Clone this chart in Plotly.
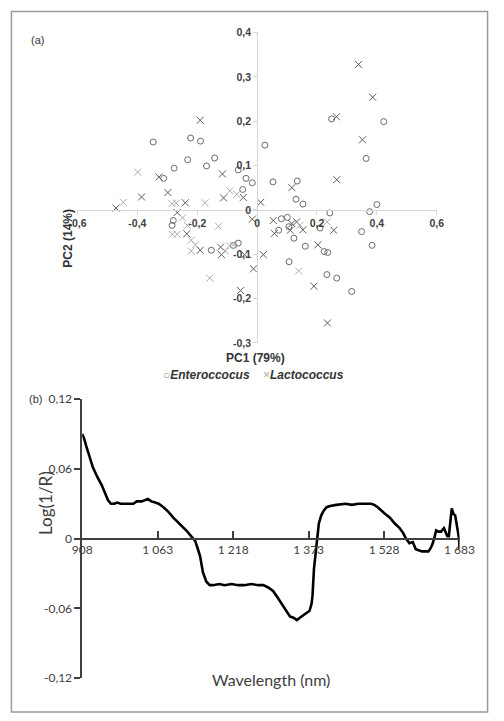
import plotly.graph_objects as go

# ---------------- Panel (a): PCA scores ----------------
entero_pc1 = [-0.347, -0.222, -0.189, -0.232, -0.142, -0.169, -0.277, -0.312, -0.063, -0.037,
              -0.016, -0.048, 0.026, 0.053, 0.134, 0.130, 0.153, 0.249, 0.423, 0.364,
              0.243, 0.376, 0.400, 0.081, 0.101, 0.106, 0.072, 0.210, 0.349, 0.384,
              0.123, 0.161, 0.224, 0.236, 0.107, 0.233, 0.266, 0.316, -0.280, -0.284,
              -0.153, -0.079, -0.063]
entero_pc2 = [0.153, 0.162, 0.155, 0.113, 0.117, 0.099, 0.094, 0.071, 0.090, 0.071,
              0.061, 0.046, 0.146, 0.063, 0.065, 0.024, 0.013, 0.205, 0.199, 0.116,
              -0.007, -0.004, 0.012, -0.020, -0.017, -0.038, -0.046, -0.041, -0.049, -0.080,
              -0.064, -0.082, -0.094, -0.096, -0.117, -0.146, -0.154, -0.184, -0.024, -0.035,
              -0.091, -0.080, -0.075]

lacto_pc1 = [-0.399, -0.190, -0.328, -0.386, -0.471, -0.447, -0.298, -0.284, -0.270, -0.240,
             -0.174, -0.116, -0.112, -0.091, -0.068, -0.046, 0.012, -0.267, -0.249, -0.233,
             -0.283, -0.267, -0.235, -0.220, -0.206, -0.220, -0.190, -0.129, -0.122, -0.119,
             -0.106, -0.092, -0.042, 0.021, -0.012, -0.158, -0.055, -0.016, 0.339, 0.386,
             0.265, 0.352, 0.266, 0.116, 0.054, 0.116, 0.132, 0.143, 0.058, 0.111,
             0.153, 0.234, 0.256, 0.203, 0.139, 0.190, 0.235, -0.079]
lacto_pc2 = [0.085, 0.202, 0.074, 0.029, 0.004, 0.017, 0.039, 0.014, 0.015, 0.016,
             0.016, 0.081, 0.027, 0.043, 0.035, 0.028, 0.017, -0.006, -0.018, -0.035,
             -0.055, -0.055, -0.054, -0.068, -0.079, -0.093, -0.091, -0.037, -0.084, -0.101,
             -0.093, -0.081, -0.101, -0.101, -0.133, -0.154, -0.182, -0.021, 0.328, 0.254,
             0.210, 0.158, 0.068, 0.050, -0.024, -0.031, -0.027, -0.035, -0.053, -0.046,
             -0.045, -0.027, -0.046, -0.079, -0.138, -0.172, -0.255, -0.079]
lacto_shade = ["l", "d", "d", "d", "d", "l", "d", "l", "l", "d",
               "l", "d", "d", "l", "l", "d", "d", "d", "l", "l",
               "l", "l", "d", "l", "l", "l", "d", "l", "d", "d",
               "l", "l", "d", "d", "d", "l", "d", "d", "d", "d",
               "d", "d", "d", "d", "d", "d", "d", "l", "d", "d",
               "d", "l", "d", "d", "l", "d", "d", "l"]

series_names = ["Enteroccocus", "Lactococcus"]

pc1_ticks = [-0.6, -0.4, -0.2, 0, 0.2, 0.4, 0.6]
pc1_labels = ["-0,6", "-0,4", "-0,2", "0", "0,2", "0,4", "0,6"]
pc2_ticks = [-0.3, -0.2, -0.1, 0, 0.1, 0.2, 0.3, 0.4]
pc2_labels = ["-0,3", "-0,2", "-0,1", "0", "0,1", "0,2", "0,3", "0,4"]

# ---------------- Panel (b): loading spectrum ----------------
wavelength = [908, 912, 916, 923, 930, 939, 948, 955, 961, 967, 974, 980, 987, 1000, 1013, 1020,
              1030, 1043, 1050, 1058, 1065, 1075, 1085, 1095, 1105, 1115, 1124, 1132, 1140, 1144,
              1150, 1156, 1163, 1170, 1176, 1190, 1200, 1215, 1228, 1241, 1255, 1270, 1280, 1290,
              1300, 1310, 1319, 1328, 1335, 1342, 1349, 1355, 1361, 1368, 1375, 1379, 1381, 1384,
              1388, 1391, 1394, 1399, 1404, 1410, 1417, 1430, 1449, 1462, 1475, 1488, 1501, 1508,
              1515, 1528, 1540, 1550, 1560, 1567, 1573, 1580, 1587, 1593, 1600, 1606, 1613, 1619,
              1624, 1628, 1632, 1635, 1640, 1645, 1651, 1655, 1658, 1661, 1664, 1667, 1669, 1671,
              1674, 1676, 1678, 1680, 1682, 1683]
log_inv_r = [0.090, 0.086, 0.080, 0.070, 0.061, 0.053, 0.046, 0.039, 0.033, 0.030, 0.030, 0.031,
             0.030, 0.030, 0.030, 0.032, 0.032, 0.034, 0.032, 0.031, 0.030, 0.027, 0.023, 0.018,
             0.014, 0.010, 0.006, 0.002, -0.002, -0.007, -0.015, -0.029, -0.037, -0.040, -0.040,
             -0.039, -0.040, -0.039, -0.040, -0.040, -0.039, -0.040, -0.040, -0.042, -0.045,
             -0.051, -0.057, -0.063, -0.067, -0.068, -0.070, -0.068, -0.066, -0.064, -0.062,
             -0.056, -0.049, -0.026, -0.010, 0.002, 0.013, 0.020, 0.024, 0.027, 0.028, 0.029,
             0.030, 0.029, 0.030, 0.030, 0.030, 0.029, 0.027, 0.022, 0.018, 0.013, 0.009, 0.005,
             0.000, -0.004, -0.003, -0.009, -0.010, -0.011, -0.011, -0.011, -0.008, -0.004, 0.002,
             0.007, 0.006, 0.006, 0.009, 0.004, 0.002, 0.002, 0.013, 0.026, 0.023, 0.021, 0.020,
             0.015, 0.010, 0.004, 0.000, -0.009]

wl_ticks = [908, 1063, 1218, 1373, 1528, 1683]
wl_labels = ["908", "1 063", "1 218", "1 373", "1 528", "1 683"]
logr_ticks = [-0.12, -0.06, 0, 0.06, 0.12]
logr_labels = ["-0,12", "-0,06", "0", "0,06", "0,12"]

W, H = 504, 721
def px(x):
    return x / W
def py(y):
    return 1 - y / H

shade_colors = {"d": "#5c5c5c", "l": "#ababab"}

fig = go.Figure()
fig.add_trace(go.Scatter(
    x=entero_pc1, y=entero_pc2, mode="markers", name=series_names[0], showlegend=False,
    marker=dict(symbol="circle-open", size=6, color="#6a6a6a", line=dict(width=1)),
    xaxis="x", yaxis="y"))
fig.add_trace(go.Scatter(
    x=lacto_pc1, y=lacto_pc2, mode="markers", name=series_names[1], showlegend=False,
    marker=dict(symbol="x-thin-open", size=7, color=[shade_colors[s] for s in lacto_shade],
                line=dict(width=1, color=[shade_colors[s] for s in lacto_shade])),
    xaxis="x", yaxis="y"))
fig.add_trace(go.Scatter(
    x=wavelength, y=log_inv_r, mode="lines", showlegend=False,
    line=dict(color="black", width=2.6), xaxis="x2", yaxis="y2"))

top_font = dict(family="Liberation Sans", size=10.5, color="#404040", weight="bold")
bot_font = dict(family="Lato", size=12, color="#404040")

legend_text = ("<span style='color:#8a8a8a'>○</span><b><i>" + series_names[0] + "</i></b>"
               "    <span style='color:#ababab'>×</span><b><i>" + series_names[1] + "</i></b>")

fig.update_layout(
    width=W, height=H, autosize=False,
    margin=dict(l=0, r=0, t=0, b=0),
    paper_bgcolor="white", plot_bgcolor="white",
    showlegend=False,
    xaxis=dict(domain=[px(71), px(449)], range=[-0.6, 0.6], anchor="free", position=py(206),
               showline=True, linecolor="#d6d6d6", linewidth=1, ticks="outside", ticklen=4,
               tickcolor="#d6d6d6", tickvals=pc1_ticks, ticktext=pc1_labels, tickfont=top_font,
               showgrid=False, zeroline=False),
    yaxis=dict(domain=[py(342), py(25)], range=[-0.3, 0.4], anchor="free", position=px(260),
               showline=True, linecolor="#d6d6d6", linewidth=1, ticks="outside", ticklen=4,
               tickcolor="#d6d6d6", tickvals=pc2_ticks, ticktext=pc2_labels, tickfont=top_font,
               showgrid=False, zeroline=False),
    xaxis2=dict(domain=[px(76), px(473)], range=[908, 1683], anchor="free", position=py(542),
                showline=True, linecolor="#404040", linewidth=1.5, ticks="inside", ticklen=7,
                tickcolor="#404040", tickwidth=1.5, tickvals=wl_ticks, ticktext=wl_labels,
                tickfont=bot_font, showgrid=False, zeroline=False),
    yaxis2=dict(domain=[py(684.5), py(399.3)], range=[-0.12, 0.12], anchor="x2",
                showline=True, linecolor="#404040", linewidth=1.5, ticks="outside", ticklen=6,
                tickcolor="#404040", tickwidth=1.5, tickvals=logr_ticks, ticktext=logr_labels,
                tickfont=bot_font, showgrid=False, zeroline=False),
    annotations=[
        dict(text="<b>PC1 (79%)</b>", x=px(258), y=py(357.5), xref="paper", yref="paper",
             showarrow=False, font=dict(family="Liberation Sans", size=12, color="#333333")),
        dict(text=legend_text, x=px(256), y=py(374.5), xref="paper", yref="paper",
             showarrow=False, font=dict(family="Liberation Sans", size=12, color="#333333")),
        dict(text="<b>PC2 (14%)</b>", x=px(52), y=py(203), xref="paper", yref="paper",
             showarrow=False, textangle=-90,
             font=dict(family="Liberation Sans", size=12, color="#333333")),
        dict(text="(a)", x=px(20), y=py(24), xref="paper", yref="paper", showarrow=False,
             font=dict(family="Liberation Sans", size=11, color="#333333")),
        dict(text="(b)", x=px(18), y=py(399), xref="paper", yref="paper", showarrow=False,
             font=dict(family="Liberation Sans", size=11, color="#333333")),
        dict(text="Log(1/R)", x=px(25), y=py(540), xref="paper", yref="paper", showarrow=False,
             textangle=-90, font=dict(family="Lato", size=17, color="#404040")),
        dict(text="Wavelength (nm)", x=px(275), y=py(698), xref="paper", yref="paper",
             showarrow=False, font=dict(family="Lato", size=16, color="#404040")),
    ],
    shapes=[dict(type="rect", xref="paper", yref="paper", x0=0.003, x1=0.997, y0=0.003, y1=0.995,
                 line=dict(color="#9a9a9a", width=1.5))],
)

fig.write_html("out.html")
